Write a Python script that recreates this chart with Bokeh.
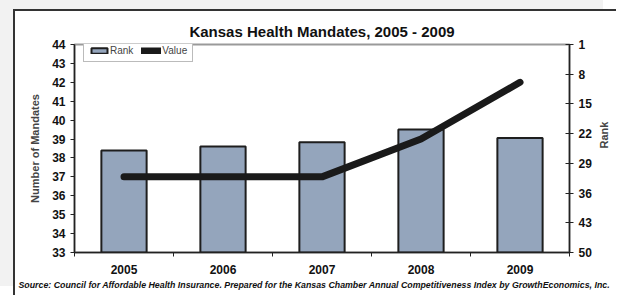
import math
from bokeh.plotting import figure
from bokeh.models import (Range1d, LinearAxis, FixedTicker, Legend, LegendItem,
                          Title, ColumnDataSource)
from bokeh.embed import file_html
from bokeh.resources import INLINE

years = ["2005", "2006", "2007", "2008", "2009"]
rank = [26, 25, 24, 21, 23]
value = [37, 37, 37, 39, 42]
left_ticks = [33, 34, 35, 36, 37, 38, 39, 40, 41, 42, 43, 44]
right_ticks = [1, 8, 15, 22, 29, 36, 43, 50]

pos = [i + 0.5 for i in range(len(years))]
src = ColumnDataSource(dict(x=pos, rank=rank, value=value, year=years))

FONT = "Liberation Sans"

p = figure(width=603, height=286, output_backend="svg", toolbar_location=None,
           x_range=Range1d(0, len(years)), y_range=Range1d(33, 44),
           x_axis_type=None, y_axis_type=None)
p.min_border_left = 59
p.min_border_right = 41
p.min_border_top = 33
p.min_border_bottom = 45
p.border_fill_color = "white"
p.background_fill_color = "white"
p.outline_line_color = "#9a9a9a"
p.outline_line_width = 2
p.xgrid.visible = False
p.ygrid.visible = False
p.styles = {"border-left": "2px solid #333333", "border-top": "2px solid #333333",
            "margin-left": "13px", "margin-top": "9px",
            "box-shadow": "-13px -9px 0 0 #f2f2f2"}

p.extra_y_ranges = {"rank": Range1d(start=50, end=1)}

p.title.text = "Kansas Health Mandates, 2005 - 2009"
p.title.align = "center"
p.title.text_font = FONT
p.title.text_font_size = "15px"
p.title.text_font_style = "bold"
p.title.text_color = "#111111"
p.title.standoff = 10

bars = p.vbar(x="x", top="rank", bottom=50, width=0.457, source=src,
              y_range_name="rank", fill_color="#94a5bc",
              line_color="#1e1e1e", line_width=2)
line = p.line(x="x", y="value", source=src, line_color="#1a1a1a",
              line_width=7, line_cap="round", line_join="round")

# left axis
ly = LinearAxis(ticker=FixedTicker(ticks=left_ticks))
ly.axis_label = "Number of Mandates"
ly.axis_label_text_font = FONT
ly.axis_label_text_font_size = "11px"
ly.axis_label_text_font_style = "bold"
ly.axis_label_standoff = 8
ly.major_label_text_font = FONT
ly.major_label_text_font_size = "12px"
ly.major_label_text_font_style = "bold"
ly.major_label_text_color = "#111111"
ly.major_tick_in = 0
ly.major_tick_out = 4
ly.minor_tick_line_color = None
ly.axis_line_color = "#222222"
ly.axis_line_width = 1.5
ly.major_tick_line_color = "#222222"
p.add_layout(ly, "left")

# right axis (rank, reversed)
ry = LinearAxis(y_range_name="rank", ticker=FixedTicker(ticks=right_ticks))
ry.axis_label = "Rank"
ry.axis_label_orientation = math.pi / 2
ry.axis_label_text_font = FONT
ry.axis_label_text_font_size = "11px"
ry.axis_label_text_font_style = "bold"
ry.axis_label_standoff = 9
ry.major_label_text_font = FONT
ry.major_label_text_font_size = "12px"
ry.major_label_text_font_style = "bold"
ry.major_label_text_color = "#111111"
ry.major_tick_in = 4
ry.major_tick_out = 4
ry.minor_tick_line_color = None
ry.axis_line_color = "#222222"
ry.axis_line_width = 1.5
ry.major_tick_line_color = "#222222"
p.add_layout(ry, "right")

# bottom axis
bx = LinearAxis(ticker=FixedTicker(ticks=pos, minor_ticks=list(range(len(years) + 1))))
bx.major_label_overrides = {x: y for x, y in zip(pos, years)}
bx.major_label_text_font = FONT
bx.major_label_text_font_size = "12px"
bx.major_label_text_font_style = "bold"
bx.major_label_text_color = "#111111"
bx.major_label_standoff = 6
bx.major_tick_line_color = None
bx.minor_tick_in = 0
bx.minor_tick_out = 4
bx.minor_tick_line_color = "#222222"
bx.axis_line_color = "#222222"
bx.axis_line_width = 1.5
p.add_layout(bx, "below")

src_title = Title(text="Source: Council for Affordable Health Insurance. Prepared for the Kansas Chamber Annual Competitiveness Index by GrowthEconomics, Inc.",
                  align="left", offset=-56, text_font=FONT, text_font_size="8.8px",
                  text_font_style="bold italic", text_color="#111111",
                  standoff=2)
p.add_layout(src_title, "below")

legend = Legend(items=[LegendItem(label="Rank", renderers=[bars]),
                       LegendItem(label="Value", renderers=[line])],
                orientation="horizontal", location=(9, 190))
legend.label_text_font = FONT
legend.label_text_font_size = "10px"
legend.label_height = 9
legend.glyph_height = 7
legend.glyph_width = 20
legend.label_standoff = 1
legend.spacing = 8
legend.padding = 5
legend.margin = 0
legend.border_line_color = "#777777"
legend.border_line_width = 1
legend.background_fill_color = "white"
legend.background_fill_alpha = 1
p.add_layout(legend, "center")

open("out.html", "w").write(file_html(p, INLINE))
